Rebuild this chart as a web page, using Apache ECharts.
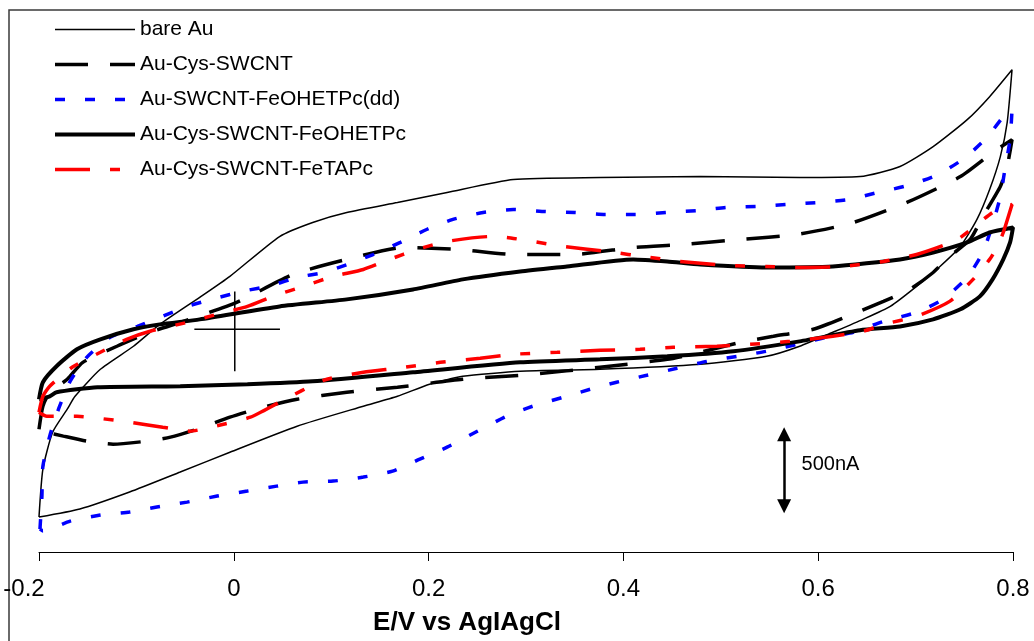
<!DOCTYPE html>
<html>
<head>
<meta charset="utf-8">
<script src="https://cdn.jsdelivr.net/npm/echarts@6/dist/echarts.min.js"></script>
<style>
html,body{margin:0;padding:0;background:#fff;}
#chart{width:1034px;height:641px;}
</style>
</head>
<body>
<div id="chart"></div>
<script>
// Potential E (V vs Ag|AgCl), current I (µA, arbitrary offset; 500 nA scale bar)
const seriesNames = ['bare Au', 'Au-Cys-SWCNT', 'Au-SWCNT-FeOHETPc(dd)', 'Au-Cys-SWCNT-FeOHETPc', 'Au-Cys-SWCNT-FeTAPc'];

const bareAu = [[-0.2,0.243],[-0.196,0.576],[-0.186,0.833],[-0.171,0.993],[-0.163,1.083],[-0.137,1.271],[-0.103,1.431],[-0.076,1.583],[-0.035,1.771],[-0.004,1.917],[0.047,2.194],[0.081,2.292],[0.116,2.361],[0.168,2.431],[0.219,2.5],[0.287,2.590],[0.376,2.604],[0.479,2.611],[0.581,2.604],[0.643,2.611],[0.684,2.681],[0.718,2.819],[0.753,3.007],[0.776,3.167],[0.799,3.354],
  [0.794,2.986],[0.787,2.75],[0.776,2.521],[0.763,2.313],[0.746,2.125],[0.725,1.986],[0.701,1.847],[0.674,1.708],[0.646,1.618],[0.615,1.528],[0.581,1.431],[0.547,1.361],[0.479,1.306],[0.376,1.271],[0.294,1.257],[0.235,1.222],[0.201,1.167],[0.168,1.083],[0.133,1.014],[0.065,0.875],[-0.004,0.694],[-0.055,0.556],[-0.107,0.417],[-0.158,0.299],[-0.2,0.243]];

const cysSwcnt = [[-0.2,0.854],[-0.196,1.014],[-0.189,1.111],[-0.171,1.201],[-0.155,1.319],[-0.120,1.431],[-0.086,1.528],[-0.052,1.604],[0.003,1.736],[0.061,1.931],[0.116,2.035],[0.174,2.118],[0.232,2.104],[0.287,2.069],[0.348,2.069],[0.410,2.118],[0.461,2.139],[0.520,2.174],[0.578,2.208],[0.633,2.285],[0.691,2.431],[0.746,2.611],[0.779,2.778],[0.799,2.868],
  [0.794,2.681],[0.787,2.542],[0.769,2.333],[0.756,2.174],[0.735,2.056],[0.718,1.944],[0.694,1.826],[0.667,1.743],[0.630,1.639],[0.595,1.549],[0.554,1.5],[0.520,1.458],[0.479,1.389],[0.445,1.340],[0.376,1.285],[0.307,1.236],[0.235,1.201],[0.168,1.146],[0.116,1.111],[0.065,1.0625],[0.030,1.007],[-0.004,0.9375],[-0.038,0.854],[-0.065,0.799],[-0.089,0.771],[-0.124,0.75],[-0.151,0.771],[-0.175,0.806],[-0.192,0.833],[-0.2,0.854]];

const swcntFeOHETPcDD = [[-0.199,0.160],[-0.197,0.389],[-0.196,0.597],[-0.189,0.806],[-0.180,0.993],[-0.168,1.1875],[-0.151,1.354],[-0.127,1.493],[-0.099,1.569],[-0.073,1.639],[-0.048,1.708],[-0.019,1.764],[0.009,1.813],[0.039,1.854],[0.065,1.910],[0.092,1.944],[0.117,2.0],[0.143,2.069],[0.171,2.153],[0.198,2.243],[0.225,2.313],[0.256,2.361],[0.287,2.382],[0.320,2.368],[0.350,2.361],[0.381,2.347],[0.412,2.347],[0.445,2.361],[0.476,2.375],[0.506,2.396],[0.537,2.403],[0.568,2.417],[0.600,2.431],[0.631,2.451],[0.661,2.5],[0.692,2.549],[0.723,2.625],[0.751,2.743],[0.774,2.889],[0.794,3.0625],[0.799,3.076],
  [0.797,2.868],[0.792,2.674],[0.787,2.472],[0.779,2.278],[0.769,2.083],[0.753,1.910],[0.728,1.757],[0.701,1.667],[0.667,1.604],[0.636,1.528],[0.609,1.493],[0.578,1.444],[0.547,1.396],[0.517,1.361],[0.486,1.326],[0.455,1.278],[0.424,1.229],[0.393,1.181],[0.366,1.132],[0.338,1.076],[0.307,1.014],[0.280,0.944],[0.250,0.840],[0.219,0.729],[0.191,0.646],[0.163,0.5625],[0.133,0.521],[0.102,0.493],[0.071,0.486],[0.044,0.458],[0.014,0.424],[-0.017,0.389],[-0.048,0.347],[-0.079,0.3125],[-0.107,0.278],[-0.137,0.257],[-0.168,0.215],[-0.196,0.146],[-0.199,0.160]];

const cysFeOHETPc = [[-0.2,1.0625],[-0.196,1.181],[-0.182,1.292],[-0.161,1.410],[-0.137,1.479],[-0.103,1.549],[-0.076,1.583],[-0.035,1.618],[0.047,1.708],[0.116,1.757],[0.184,1.826],[0.235,1.896],[0.294,1.951],[0.342,1.986],[0.410,2.035],[0.445,2.021],[0.479,2.0],[0.547,1.979],[0.615,1.986],[0.684,2.035],[0.718,2.083],[0.753,2.153],[0.776,2.222],[0.8,2.257],
  [0.797,2.153],[0.790,2.035],[0.779,1.896],[0.766,1.778],[0.746,1.688],[0.718,1.618],[0.684,1.569],[0.643,1.542],[0.581,1.465],[0.513,1.396],[0.445,1.361],[0.376,1.340],[0.294,1.319],[0.184,1.25],[0.081,1.1875],[0.014,1.167],[-0.055,1.153],[-0.140,1.146],[-0.182,1.111],[-0.189,1.083],[-0.2,1.0625]];

const cysFeTAPc = [[-0.2,0.972],[-0.196,1.083],[-0.189,1.153],[-0.166,1.285],[-0.137,1.389],[-0.110,1.479],[-0.086,1.535],[-0.048,1.597],[-0.017,1.653],[0.014,1.708],[0.040,1.778],[0.071,1.847],[0.102,1.917],[0.133,1.965],[0.160,2.035],[0.188,2.104],[0.219,2.160],[0.263,2.194],[0.280,2.188],[0.307,2.160],[0.338,2.125],[0.383,2.090],[0.427,2.049],[0.458,2.021],[0.506,1.993],[0.547,1.986],[0.581,1.979],[0.625,1.986],[0.667,2.021],[0.701,2.069],[0.743,2.174],[0.779,2.361],[0.799,2.417],
  [0.790,2.222],[0.784,2.125],[0.776,2.035],[0.759,1.896],[0.735,1.743],[0.701,1.639],[0.667,1.583],[0.646,1.535],[0.615,1.5],[0.571,1.465],[0.530,1.444],[0.496,1.431],[0.451,1.424],[0.417,1.410],[0.376,1.403],[0.332,1.389],[0.287,1.375],[0.253,1.347],[0.212,1.319],[0.168,1.278],[0.133,1.25],[0.092,1.194],[0.047,1.042],[0.017,0.9375],[-0.024,0.868],[-0.045,0.840],[-0.073,0.868],[-0.107,0.903],[-0.140,0.931],[-0.161,0.944],[-0.192,0.944],[-0.2,0.972]];

// Reference cross and 500 nA scale bar (data coordinates)
const crossH = [[-0.0405,1.549],[0.0474,1.549]];
const crossV = [[0.001,1.8125],[0.001,1.257]];
const scaleBar = [[0.565,0.819],[0.565,0.319]];
const scaleLabel = '500nA';
const xTitle = 'E/V vs AgIAgCl';

const FONT = "'Liberation Sans', Arial, sans-serif";
const chart = echarts.init(document.getElementById('chart'), null, {renderer: 'canvas'});

const styles = [
  {color: '#000', width: 1.5, dash: 'solid'},
  {color: '#000', width: 3.5, dash: [33, 22]},
  {color: '#0000ff', width: 3.5, dash: [10, 20]},
  {color: '#000', width: 4, dash: 'solid'},
  {color: '#ff0000', width: 3.5, dash: [35, 20, 10, 20, 10, 20]}
];
const curves = [bareAu, cysSwcnt, swcntFeOHETPcDD, cysFeOHETPc, cysFeTAPc];

const curveSeries = curves.map(function (data, i) {
  const s = styles[i];
  return {
    name: seriesNames[i], type: 'line', data: data, smooth: 0.2, symbol: 'none',
    lineStyle: {color: s.color, width: s.width, type: s.dash, cap: 'butt'},
    itemStyle: {color: s.color},
    z: 3, silent: true
  };
});

chart.setOption({
  animation: false,
  backgroundColor: '#fff',
  graphic: [{
    type: 'rect', shape: {x: 9, y: 10, width: 1040, height: 650},
    style: {fill: 'none', stroke: '#3a3a3a', lineWidth: 1.5}, silent: true, z: 0
  }],
  grid: {left: 39, right: 21, top: 20, bottom: 88},
  legend: {
    data: seriesNames.map(function (n, i) {
      return {name: n, itemStyle: {opacity: 0}, lineStyle: {width: styles[i].width, type: styles[i].dash, color: styles[i].color, cap: 'butt'}};
    }),
    orient: 'vertical', left: 48, top: 14,
    itemWidth: 80, itemHeight: 20, itemGap: 14,
    textStyle: {fontSize: 21, color: '#000', fontFamily: FONT},
    selectedMode: false
  },
  xAxis: {
    type: 'value', min: -0.2, max: 0.8, interval: 0.2,
    axisLine: {onZero: false, lineStyle: {color: '#000', width: 1}},
    axisTick: {length: 9, lineStyle: {color: '#000'}},
    axisLabel: {
      fontSize: 24, color: '#000', fontFamily: FONT, margin: 25,
      formatter: function (v) {
        const t = String(Math.round(v * 10) / 10);
        return v < 0 ? '{n|' + t + '}' : t;
      },
      rich: {n: {fontSize: 24, color: '#000', fontFamily: FONT, padding: [0, 30, 0, 0]}}
    },
    splitLine: {show: false},
    name: xTitle, nameLocation: 'middle', nameGap: 58,
    nameTextStyle: {fontSize: 26, fontWeight: 'bold', color: '#000', fontFamily: FONT, padding: [0, 118, 0, 0]}
  },
  yAxis: {
    type: 'value', min: 0, max: 3.7, show: false
  },
  series: curveSeries.concat([
    {
      type: 'line', data: crossH, symbol: 'none', silent: true,
      lineStyle: {color: '#000', width: 1.5}, z: 2
    },
    {
      type: 'line', data: crossV, symbol: 'none', silent: true,
      lineStyle: {color: '#000', width: 1.5}, z: 2,
      markLine: {
        silent: true, symbol: ['triangle', 'triangle'], symbolSize: [14, 14],
        label: {show: false},
        lineStyle: {color: '#000', width: 2.5, type: 'solid'},
        emphasis: {disabled: true},
        data: [[{coord: scaleBar[0]}, {coord: scaleBar[1]}]]
      },
      markPoint: {
        silent: true, symbol: 'rect', symbolSize: 1,
        itemStyle: {color: 'rgba(0,0,0,0)'},
        label: {show: true, position: 'right', distance: 17, formatter: scaleLabel, fontSize: 20, color: '#000', fontFamily: FONT},
        data: [{coord: [scaleBar[0][0], (scaleBar[0][1] + scaleBar[1][1]) / 2 + 0.04]}]
      }
    }
  ])
});
</script>
</body>
</html>
